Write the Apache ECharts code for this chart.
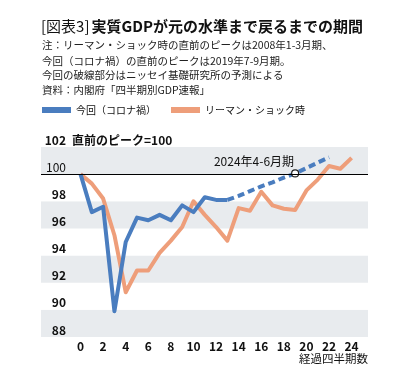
<!DOCTYPE html>
<html><head><meta charset="utf-8">
<script src="https://cdn.jsdelivr.net/npm/echarts@6/dist/echarts.min.js"></script>
<style>html,body{margin:0;padding:0;background:#fff}#c{width:414px;height:382px}</style>
</head><body><div id="c"></div>
<script>
const FONT = '"Noto Sans CJK JP", "Noto Sans", sans-serif';

// ---- data ----
const quarters = [0,1,2,3,4,5,6,7,8,9,10,11,12,13,14,15,16,17,18,19,20,21,22,23,24];
const covidActual = [100, 97.2, 97.6, 89.9, 95.0, 96.8, 96.6, 97.0, 96.6, 97.7, 97.2, 98.3, 98.1, 98.1];
const covidForecastStart = 13;
const covidForecast = [98.1, 98.4, 98.75, 99.1, 99.4, 99.75, 100.05, 100.45, 100.85, 101.25];
const lehman = [100, 99.3, 98.2, 95.5, 91.3, 92.9, 92.9, 94.2, 95.1, 96.1, 98.0, 97.0, 96.1, 95.1, 97.5, 97.3, 98.7, 97.7, 97.45, 97.35, 98.8, 99.6, 100.6, 100.4, 101.2];
const xTickLabels = [0,2,4,6,8,10,12,14,16,18,20,22,24];
const yTicks = [88,90,92,94,96,98,100,102];
const baseLevel = 100;
const markerQuarter = 19;
const markerText = '2024年4-6月期';

const seriesCovid = '今回（コロナ禍）';
const seriesLehman = 'リーマン・ショック時';
const titleText = '{a|[図表3]}{b|実質GDPが元の水準まで戻るまでの期間}';
const notes = [
  '注：リーマン・ショック時の直前のピークは2008年1-3月期、',
  '今回（コロナ禍）の直前のピークは2019年7-9月期。',
  '今回の破線部分はニッセイ基礎研究所の予測による',
  '資料：内閣府「四半期別GDP速報」'
];
const yName = '直前のピーク=100';
const xName = '経過四半期数';

const BLUE = '#4a7dbf';
const ORANGE = '#ee9e7a';
const BAND = '#e8ebee';

const covidData = covidActual.map((v, i) => [quarters[i], v]);
const lehmanData = lehman.map((v, i) => [quarters[i], v]);
const forecastData = covidForecast.map((v, i) => {
  const q = quarters[covidForecastStart + i];
  if (q === markerQuarter) {
    return {
      value: [q, v], symbol: 'circle', symbolSize: 7,
      itemStyle: { color: '#fff', borderColor: '#222', borderWidth: 1.2 },
      label: { show: true, formatter: markerText, position: [3, -8], align: 'right', verticalAlign: 'middle',
               fontSize: 12, color: '#111', fontFamily: FONT }
    };
  }
  return { value: [q, v] };
});

const noteTops = [45, 61, 75.5, 90];

const chart = echarts.init(document.getElementById('c'), null, { renderer: 'canvas' });
chart.setOption({
  animation: false,
  backgroundColor: '#fff',
  textStyle: { fontFamily: FONT },
  title: {
    text: titleText, left: 36, top: 14,
    textStyle: { rich: {
      a: { fontSize: 15, fontWeight: 'normal', color: '#111', fontFamily: FONT, padding: [0, 2, 0, 0] },
      b: { fontSize: 15, fontWeight: 'bold', color: '#111', fontFamily: FONT }
    } }
  },
  graphic: [
    ...notes.map((t, i) => ({
      type: 'text', x: 42, y: noteTops[i],
      style: { text: t, fontSize: 10.5, fill: '#222', fontFamily: FONT, verticalAlign: 'middle', align: 'left' }
    })),
    { type: 'text', x: 72, y: 140.5,
      style: { text: yName, fontSize: 12, fontWeight: 'bold', fill: '#111', fontFamily: FONT, verticalAlign: 'middle', align: 'left' } },
    { type: 'text', x: 368, y: 359,
      style: { text: xName, fontSize: 11.5, fill: '#111', fontFamily: FONT, verticalAlign: 'middle', align: 'right' } }
  ],
  legend: {
    data: [seriesCovid, seriesLehman],
    left: 37, top: 100, icon: 'rect', itemWidth: 29, itemHeight: 6, itemGap: 15,
    textStyle: { fontSize: 10, color: '#111', fontFamily: FONT }
  },
  grid: { left: 41, right: 46, top: 147, bottom: 45 },
  xAxis: {
    type: 'value', min: -3.5, max: 25.45,
    axisLine: { show: false }, axisTick: { show: false }, splitLine: { show: false },
    axisLabel: { customValues: xTickLabels, fontSize: 12, fontWeight: 'bold', color: '#111', margin: 3, fontFamily: FONT }
  },
  yAxis: {
    type: 'value', min: yTicks[0], max: yTicks[yTicks.length - 1], interval: 2,
    axisLine: { show: false }, axisTick: { show: false }, splitLine: { show: false },
    splitArea: { show: true, areaStyle: { color: [BAND, '#ffffff'] } },
    axisLabel: {
      margin: -25, align: 'right', verticalAlign: 'bottom',
      fontSize: 12, fontWeight: 'bold', color: '#111', lineHeight: 14, fontFamily: FONT,
      formatter: v => v === baseLevel ? '{n|' + v + '}' : String(v),
      rich: {
        n: { fontSize: 12, fontWeight: 'normal', color: '#111', lineHeight: 14, fontFamily: FONT }
      }
    }
  },
  series: [
    {
      name: seriesLehman, type: 'line', data: lehmanData, z: 2, color: ORANGE,
      symbol: 'none', lineStyle: { width: 4, color: ORANGE, join: 'round' },
      markLine: { silent: true, symbol: 'none', data: [{ yAxis: baseLevel }],
                  lineStyle: { color: '#000', width: 1, type: 'solid' }, label: { show: false } }
    },
    {
      name: seriesCovid, type: 'line', data: covidData, z: 3, color: BLUE,
      symbol: 'none', lineStyle: { width: 4, color: BLUE, join: 'round' }
    },
    {
      name: seriesCovid + '予測', type: 'line', data: forecastData, z: 4, color: BLUE,
      symbol: 'none', showSymbol: true,
      lineStyle: { width: 4, color: BLUE, type: [7, 4] }
    }
  ]
});
</script>
</body></html>
